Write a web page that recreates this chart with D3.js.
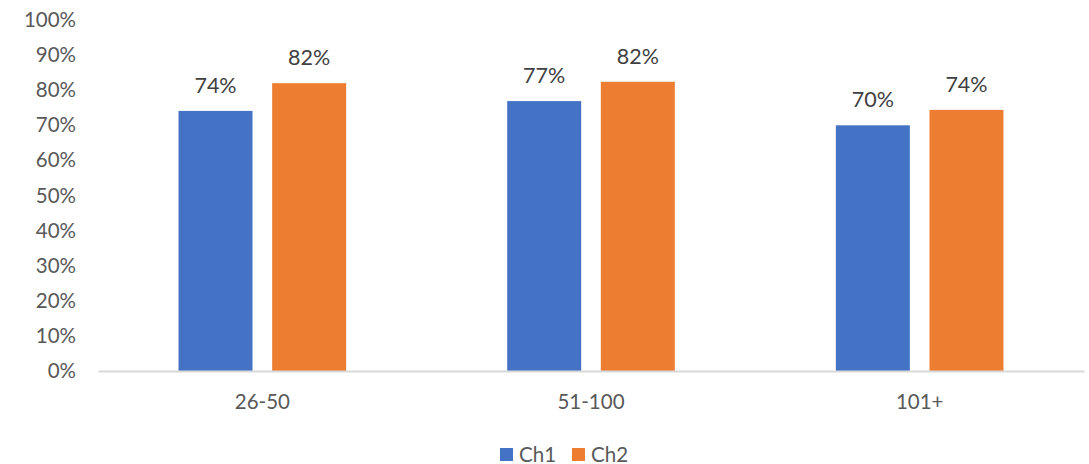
<!DOCTYPE html>
<html>
<head>
<meta charset="utf-8">
<script src="https://cdn.jsdelivr.net/npm/d3@7"></script>
<style>
  body { margin: 0; background: #fff; }
  text { font-family: Lato, "Open Sans", sans-serif; }
</style>
</head>
<body>
<script>
// chart data
var categories = ['26-50', '51-100', '101+'];
var seriesNames = ['Ch1', 'Ch2'];
var ch1 = [74.1, 76.9, 70.0];
var ch2 = [82.0, 82.4, 74.4];
var yTicks = [0, 10, 20, 30, 40, 50, 60, 70, 80, 90, 100];
var colors = ['#4472C4', '#ED7D31'];

var width = 1089;
var height = 464;

var svg = d3.select('body').append('svg')
  .attr('width', width)
  .attr('height', height);

var x0 = d3.scaleBand()
  .domain(categories)
  .range([98, 1084])
  .paddingInner(0.49)
  .paddingOuter(0.245);

var x1 = d3.scaleBand()
  .domain(seriesNames)
  .range([0, x0.bandwidth()])
  .paddingInner(0.21);

var y = d3.scaleLinear()
  .domain([0, 100])
  .range([371, 20]);

// y axis labels (no line, no gridlines)
var yAxis = d3.axisLeft(y)
  .tickValues(yTicks)
  .tickFormat(function(d) { return d + '%'; })
  .tickSize(0)
  .tickPadding(0);

var gy = svg.append('g')
  .attr('transform', 'translate(76,0)')
  .call(yAxis);
gy.select('.domain').remove();
gy.selectAll('text')
  .attr('fill', '#595959')
  .style('font-size', '20.5px')
  .style('font-family', 'Lato, "Open Sans", sans-serif');

// rows of data per category
var rows = categories.map(function(c, i) {
  return { cat: c, vals: [ch1[i], ch2[i]] };
});

var groups = svg.selectAll('g.grp').data(rows)
  .enter()
  .append('g')
  .attr('class', 'grp')
  .attr('transform', function(d) { return 'translate(' + x0(d.cat) + ',0)'; });

groups.selectAll('rect')
  .data(function(d) { return d.vals.map(function(v, j) { return { s: seriesNames[j], v: v, j: j }; }); })
  .enter()
  .append('rect')
  .attr('x', function(d) { return x1(d.s); })
  .attr('y', function(d) { return y(d.v); })
  .attr('width', x1.bandwidth())
  .attr('height', function(d) { return y(0) - y(d.v); })
  .attr('fill', function(d) { return colors[d.j]; });

groups.selectAll('text.lbl')
  .data(function(d) { return d.vals.map(function(v, j) { return { s: seriesNames[j], v: v }; }); })
  .enter()
  .append('text')
  .attr('class', 'lbl')
  .attr('x', function(d) { return x1(d.s) + x1.bandwidth() / 2; })
  .attr('y', function(d) { return y(d.v) - 18; })
  .attr('text-anchor', 'middle')
  .attr('fill', '#404040')
  .style('font-size', '21.5px')
  .text(function(d) { return Math.round(d.v) + '%'; });

// x axis
var xAxis = d3.axisBottom(x0).tickSize(0).tickPadding(0);
var gx = svg.append('g')
  .attr('transform', 'translate(0,371)')
  .call(xAxis);
gx.select('.domain')
  .attr('stroke', '#d9d9d9')
  .attr('stroke-width', 2);
gx.selectAll('text')
  .attr('dy', 0)
  .attr('y', 38)
  .attr('fill', '#595959')
  .style('font-size', '20.5px')
  .style('font-family', 'Lato, "Open Sans", sans-serif');

// legend
var legend = svg.append('g').attr('transform', 'translate(500,448)');
var legX = [0, 72];
seriesNames.forEach(function(s, i) {
  legend.append('rect')
    .attr('x', legX[i])
    .attr('y', 0)
    .attr('width', 13)
    .attr('height', 13)
    .attr('fill', colors[i]);
  legend.append('text')
    .attr('x', legX[i] + 19)
    .attr('y', 13.5)
    .attr('fill', '#595959')
    .style('font-size', '20.5px')
    .text(s);
});
</script>
</body>
</html>
